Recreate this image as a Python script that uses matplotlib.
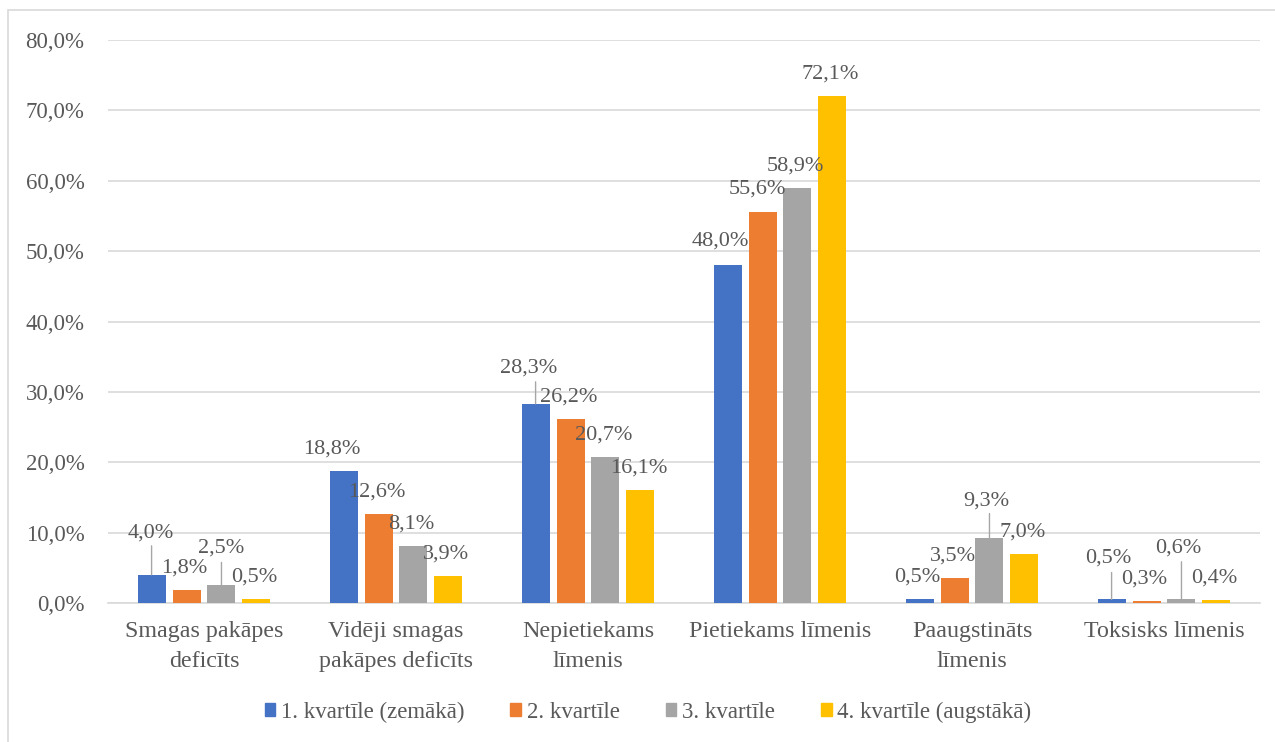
import numpy as np
import matplotlib.pyplot as plt
from matplotlib.patches import Patch, Rectangle

plt.rcParams["font.family"] = ["Liberation Serif", "DejaVu Serif"]

categories = [
    "Smagas pakāpes\ndeficīts",
    "Vidēji smagas\npakāpes deficīts",
    "Nepietiekams\nlīmenis",
    "Pietiekams līmenis",
    "Paaugstināts\nlīmenis",
    "Toksisks līmenis",
]
series_names = [
    "1. kvartīle (zemākā)",
    "2. kvartīle",
    "3. kvartīle",
    "4. kvartīle (augstākā)",
]
q1 = [4.0, 18.8, 28.3, 48.0, 0.5, 0.5]
q2 = [1.8, 12.6, 26.2, 55.6, 3.5, 0.3]
q3 = [2.5, 8.1, 20.7, 58.9, 9.3, 0.6]
q4 = [0.5, 3.9, 16.1, 72.1, 7.0, 0.4]
y_ticks = [0, 10, 20, 30, 40, 50, 60, 70, 80]

colors = ["#4472C4", "#ED7D31", "#A5A5A5", "#FFC000"]
text_color = "#595959"
grid_color = "#D9D9D9"

# label offsets in pixels (dx, dy) from the top centre of a bar,
# plus the length of the leader line when Excel moved the label up
default_offset = (-2, 22)
moved_labels = {
    (0, 0): (-1, 42, 29),
    (0, 2): (0, 37, 23),
    (1, 0): (-12, 22, 0),
    (2, 0): (-7, 36, 22),
    (3, 0): (-7, 24, 0),
    (3, 1): (-5, 23, 0),
    (4, 2): (-3, 37, 24),
    (5, 0): (-3, 41, 27),
    (5, 2): (-3, 51, 37),
}


def fmt(v):
    return f"{v:.1f}%".replace(".", ",")


def plot_chart():
    fig = plt.figure(figsize=(12.75, 7.42), dpi=100)
    ax = fig.add_axes([108 / 1275, 1 - 603 / 742, 1152 / 1275, 563 / 742])

    x = np.arange(len(categories))
    width = 0.146
    pitch = 0.182
    for i, vals in enumerate([q1, q2, q3, q4]):
        xs = x + (i - 1.5) * pitch
        ax.bar(xs, vals, width, color=colors[i], zorder=3)
        for j, (bx, v) in enumerate(zip(xs, vals)):
            dx, dy, lead = moved_labels.get((j, i), (*default_offset, 0))
            ax.annotate(fmt(v), xy=(bx, v), xytext=(dx, dy),
                        textcoords="offset pixels", ha="center", va="center",
                        fontsize=16, color=text_color, zorder=5)
            if lead:
                ax.annotate("", xy=(bx, v), xytext=(0, lead),
                            textcoords="offset pixels",
                            arrowprops=dict(arrowstyle="-", color="#A6A6A6",
                                            lw=1, shrinkA=0, shrinkB=0),
                            zorder=4)

    ax.set_xlim(-0.5, len(categories) - 0.5)
    ax.set_ylim(0, 80)
    ax.set_yticks(y_ticks)
    ax.set_yticklabels([fmt(t) for t in y_ticks])
    ax.set_xticks(x)
    ax.set_xticklabels(categories, linespacing=1.55)
    ax.tick_params(axis="y", length=0, pad=17, labelsize=16.5, labelcolor=text_color)
    ax.tick_params(axis="x", length=0, pad=13, labelsize=17.3, labelcolor=text_color)
    ax.yaxis.grid(True, color=grid_color, lw=1.2, zorder=0)
    for side in ["left", "right", "top"]:
        ax.spines[side].set_visible(False)
    ax.spines["bottom"].set_color(grid_color)
    ax.spines["bottom"].set_linewidth(1.2)

    handles = [Patch(color=c) for c in colors]
    fig.legend(handles, series_names, loc="center", ncol=4,
               bbox_to_anchor=(648 / 1275, 1 - 712 / 742), frameon=False,
               fontsize=16.5, labelcolor=text_color, handlelength=0.47,
               handleheight=0.47, handletextpad=0.25, columnspacing=2.0)

    # chart area border
    fig.patches.append(Rectangle((8 / 1275, -0.05), 1.2, 1.05 - 10 / 742,
                                 transform=fig.transFigure, fill=False,
                                 edgecolor=grid_color, lw=1.2))

    fig.savefig("out.png", dpi=100)


def main():
    plot_chart()


if __name__ == "__main__":
    main()
